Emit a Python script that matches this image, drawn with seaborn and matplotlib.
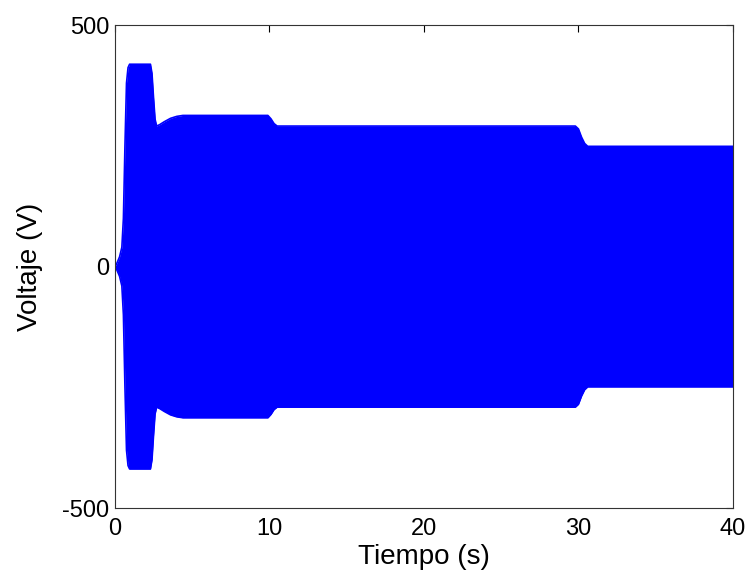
import numpy as np
import pandas as pd
import matplotlib
matplotlib.use("Agg")
import matplotlib.pyplot as plt
import seaborn as sns

# Envelope of the oscillating voltage (time in s, amplitude in V)
tiempo = [0.0, 0.1, 0.3, 0.45, 0.55, 0.65, 0.75, 0.85, 0.95, 2.3, 2.4, 2.5, 2.6,
          2.7, 2.9, 3.2, 3.6, 4.0, 4.4, 9.9, 10.1, 10.3, 10.5, 29.8, 30.0, 30.2,
          30.4, 30.6, 40.0]
amplitud = [0, 5, 20, 40, 100, 250, 380, 412, 419, 419, 400, 350, 305,
            291, 294, 300, 307, 311, 313, 313, 306, 296, 291, 291, 285, 268,
            255, 249, 249]
x_ticks = [0, 10, 20, 30, 40]
y_ticks = [-500, 0, 500]

df = pd.DataFrame({"t": tiempo, "sup": amplitud,
                   "inf": [-a for a in amplitud]})

sns.set_style("white")
plt.rcParams["font.family"] = ["Liberation Sans", "DejaVu Sans"]
plt.rcParams["axes.unicode_minus"] = False

fig = plt.figure(figsize=(7.51, 5.84), dpi=100)
ax = fig.add_axes([0.153, 0.130, 0.823, 0.827])

blue = "#0000FF"
ax.fill_between(df["t"], df["inf"], df["sup"], color=blue, linewidth=0)
sns.lineplot(data=df, x="t", y="sup", ax=ax, color=blue, linewidth=1.2)
sns.lineplot(data=df, x="t", y="inf", ax=ax, color=blue, linewidth=1.2)

ax.set_xlim(0, 40)
ax.set_ylim(-500, 500)
ax.set_xticks(x_ticks)
ax.set_yticks(y_ticks)
ax.tick_params(direction="in", length=5, width=0.8, top=True, right=True,
               labelsize=17, colors="black", pad=4)
ax.tick_params(axis="x", pad=7)
for lab in ax.get_xticklabels() + ax.get_yticklabels():
    lab.set_color("black")
for s in ax.spines.values():
    s.set_color("#333333")
    s.set_linewidth(0.8)
ax.set_xlabel("Tiempo (s)", fontsize=20, labelpad=3, color="black")
ax.set_ylabel("Voltaje (V)", fontsize=20, labelpad=14, color="black")

fig.savefig("out.png", dpi=100)
